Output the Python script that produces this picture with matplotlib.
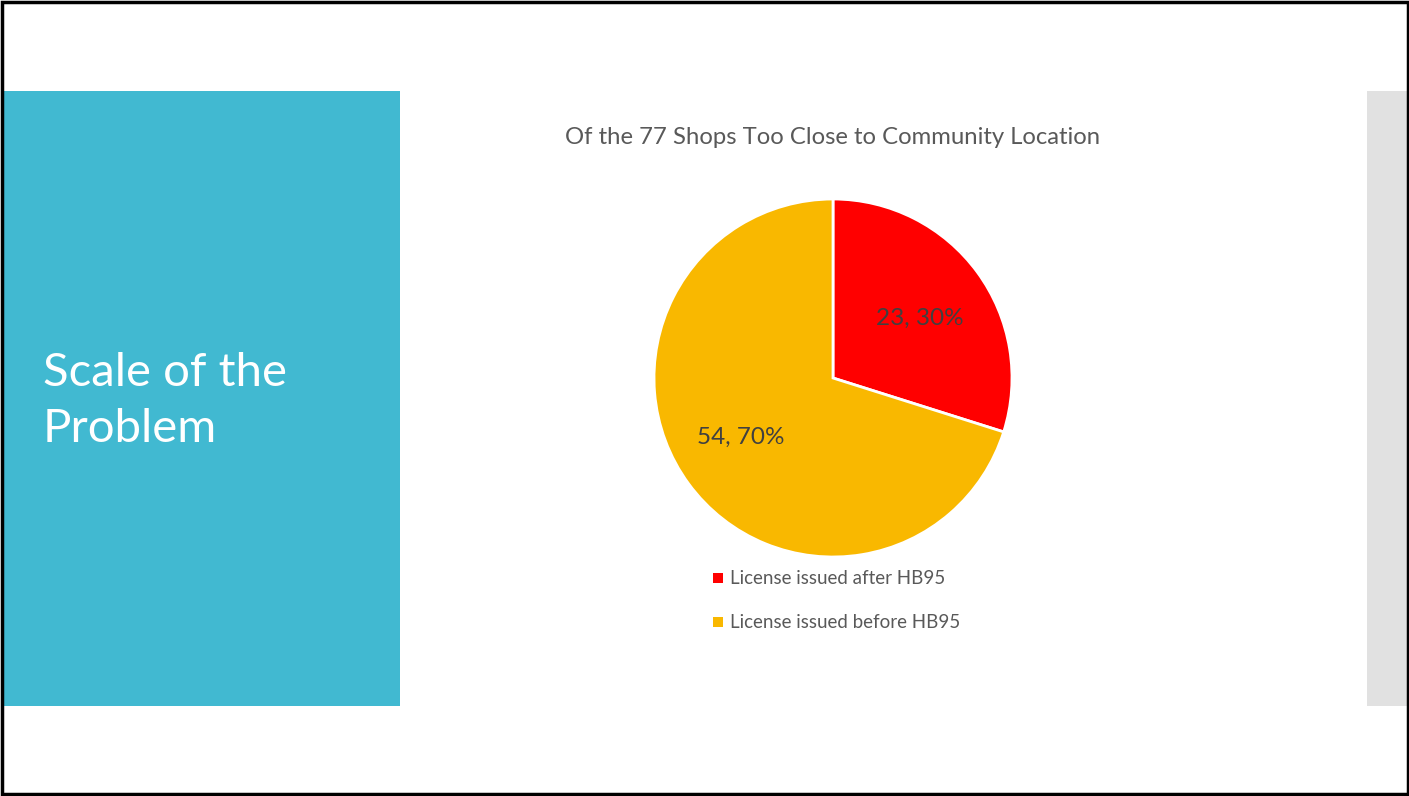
import matplotlib.pyplot as plt
from matplotlib.patches import Rectangle

labels = ['License issued after HB95', 'License issued before HB95']
counts = [23, 54]
colors = ['#FF0000', '#F9B800']
title = 'Of the 77 Shops Too Close to Community Location'
heading = 'Scale of the\nProblem'

W, H = 1409, 796
plt.rcParams['font.family'] = ['Lato', 'DejaVu Sans']

fig = plt.figure(figsize=(W / 100, H / 100), dpi=100)

# background layer in pixel coords
bg = fig.add_axes([0, 0, 1, 1])
bg.set_xlim(0, W)
bg.set_ylim(H, 0)
bg.axis('off')
bg.add_patch(Rectangle((3, 91), 397, 615, color='#41B9D1', lw=0))
bg.add_patch(Rectangle((1367, 91), 41, 615, color='#E1E1E1', lw=0))
bg.add_patch(Rectangle((1.5, 1.5), W - 3, H - 4, fill=False, ec='black', lw=2.5))
bg.text(43, 401, heading, color='white', fontsize=34, va='center', ha='left',
        linespacing=1.4)
bg.text(833, 137, title, color='#595959', fontsize=17.2, ha='center', va='center')

# pie
r = 179
cx, cy = 833, 378
ax = fig.add_axes([(cx - r) / W, (H - cy - r) / H, 2 * r / W, 2 * r / H])
total = sum(counts)
wedges, _ = ax.pie(counts, colors=colors, startangle=90, counterclock=False,
                   wedgeprops=dict(edgecolor='white', linewidth=2))
ax.set_aspect('auto')
ax.set_xlim(-1, 1)
ax.set_ylim(-1, 1)
label_pos = [(920, 318), (741, 437)]
for c, (px, py) in zip(counts, label_pos):
    fig.text(px / W, 1 - py / H, f'{c}, {round(c / total * 100)}%', color='#404040',
             fontsize=17.5, family=['Lato', 'DejaVu Sans'],
             ha='center', va='center', zorder=10)

# legend
for i, (lab, col) in enumerate(zip(labels, colors)):
    y = 578 + i * 44
    bg.add_patch(Rectangle((713, y - 5), 10, 10, color=col, lw=0))
    bg.text(730, y, lab, color='#595959', fontsize=13.5, ha='left', va='center')

fig.savefig('out.png', dpi=100)
